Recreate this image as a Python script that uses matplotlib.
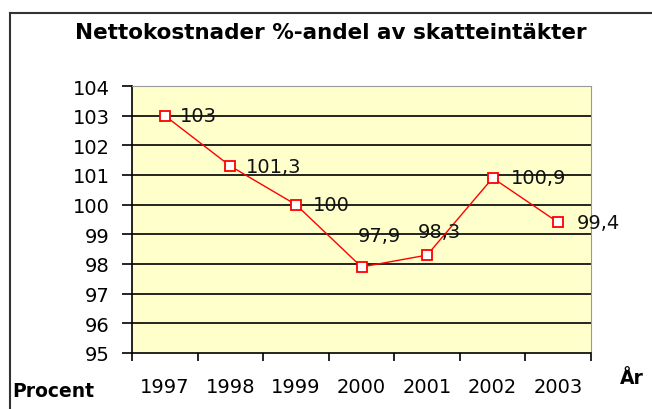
import numpy as np
import matplotlib
matplotlib.use('Agg')
import matplotlib.pyplot as plt
from matplotlib.lines import Line2D

plt.rcParams['font.family'] = ['DejaVu Sans']

years = ['1997', '1998', '1999', '2000', '2001', '2002', '2003']
values = [103, 101.3, 100, 97.9, 98.3, 100.9, 99.4]
labels = ['103', '101,3', '100', '97,9', '98,3', '100,9', '99,4']
# label offsets in points (dx, dy)
offsets = [(11, 0), (11, 0), (12, 0), (-3, 23), (-7, 17), (13, 0), (13, 0)]

fig = plt.figure(figsize=(6.52, 4.10), dpi=100)
ax = fig.add_axes([0.2025, 0.1366, 0.704, 0.6512])
ax.set_facecolor('#FFFFCC')

x = np.arange(len(years))
ax.set_xlim(-0.5, len(years) - 0.5)
ax.set_ylim(95, 104)

for yv in range(96, 104):
    ax.axhline(yv, color='black', lw=1.2, zorder=1)

ax.plot(x, values, color='red', lw=1, marker='s', markersize=7,
        markerfacecolor='white', markeredgecolor='red', markeredgewidth=1.3, zorder=3)

for xi, v, lab, (dx, dy) in zip(x, values, labels, offsets):
    ax.annotate(lab, (xi, v), xytext=(dx, dy), textcoords='offset points',
                ha='left', va='center', fontsize=14, color='#111111', zorder=4)

ax.set_yticks(range(95, 105))
ax.tick_params(axis='y', length=7, width=1.2, pad=9, labelsize=14, direction='out')
ax.set_xticks(x)
ax.set_xticklabels(years)
ax.set_xticks(np.arange(-0.5, len(years)), minor=True)
ax.tick_params(axis='x', which='major', length=0, pad=17, labelsize=14)
ax.tick_params(axis='x', which='minor', length=6, width=1.2, direction='out')

ax.spines['left'].set_color('black')
ax.spines['left'].set_linewidth(1.2)
ax.spines['bottom'].set_color('black')
ax.spines['bottom'].set_linewidth(1.2)
ax.spines['top'].set_color('#999999')
ax.spines['right'].set_color('#999999')

fig.text(0.508, 0.92, 'Nettokostnader %-andel av skatteintäkter', ha='center', va='center',
         fontsize=15.5, fontweight='bold')
fig.text(0.019, 0.044, 'Procent', ha='left', va='center', fontsize=13.5, fontweight='bold')
fig.text(0.951, 0.078, 'År', ha='left', va='center', fontsize=13.5, fontweight='bold')

# outer chart border (cut off at right and bottom)
fig.add_artist(Line2D([10 / 652, 10 / 652], [0, 1 - 14 / 410], transform=fig.transFigure,
                      color='#333333', lw=1.5))
fig.add_artist(Line2D([10 / 652, 1], [1 - 14 / 410, 1 - 14 / 410], transform=fig.transFigure,
                      color='#333333', lw=1.5))

fig.savefig('out.png', dpi=100)
